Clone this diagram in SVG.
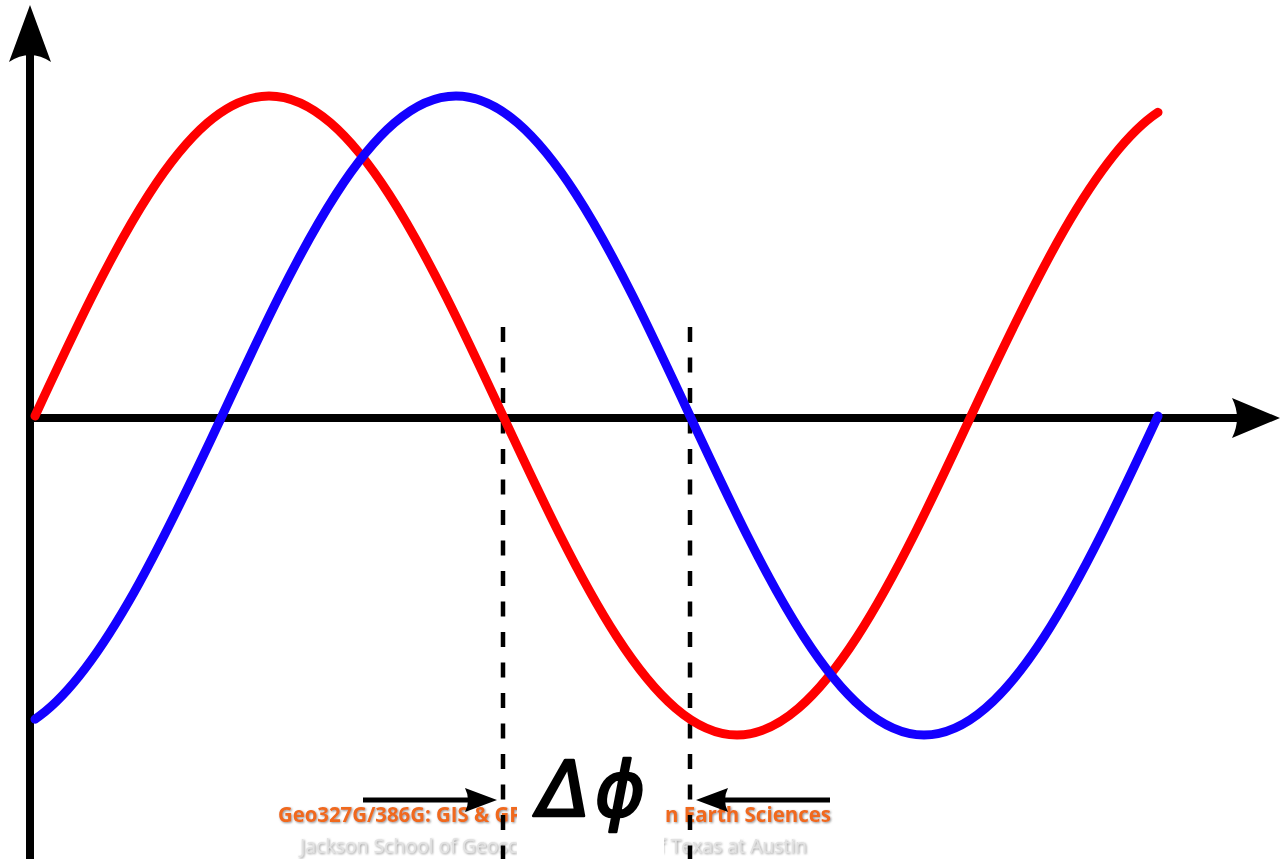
<svg xmlns="http://www.w3.org/2000/svg" width="1280" height="859" viewBox="0 0 1280 859">
<style>
.axis{stroke:#000;stroke-width:8;fill:none}
.head{fill:#000;stroke:none}
.wave{fill:none;stroke-width:9;stroke-linecap:round;stroke-linejoin:round}
.dash{stroke:#000;stroke-width:4.5;stroke-dasharray:15 15.5;fill:none}
.small{stroke:#000;stroke-width:5;fill:none}
.wm1{font-family:"Open Sans","Liberation Sans",sans-serif;font-weight:bold;font-size:22px;fill:#F0691A}
.wm2{font-family:"Open Sans","Liberation Sans",sans-serif;font-size:19.5px;fill:#e2e2e2}
.lbl{font-family:"DejaVu Sans","Liberation Sans",sans-serif;font-style:italic;font-size:76px;fill:#000;stroke:#000;stroke-width:2.6;stroke-linejoin:round;letter-spacing:5px}
</style>
<defs>
<filter id="sh" x="-5%" y="-30%" width="110%" height="160%">
<feDropShadow dx="1" dy="1" stdDeviation="0.8" flood-color="#777" flood-opacity="0.8"/>
</filter>
</defs>
<rect width="1280" height="859" fill="#fff"/>
<g id="watermark" filter="url(#sh)">
<text class="wm1" x="278" y="822" textLength="244" lengthAdjust="spacingAndGlyphs">Geo327G/386G: GIS &amp; GP</text>
<text class="wm1" x="665" y="822" textLength="166" lengthAdjust="spacingAndGlyphs">n Earth Sciences</text>
<text class="wm2" x="300" y="853" textLength="222" lengthAdjust="spacingAndGlyphs">Jackson School of Geosci</text>
<text class="wm2" x="659" y="853" textLength="148" lengthAdjust="spacingAndGlyphs">f Texas at Austin</text>
</g>
<rect id="label-bg" x="517" y="745" width="147" height="114" fill="#fff"/>
<g id="connectors">
<line class="axis" x1="30" y1="859" x2="30" y2="52"/>
<path class="head" d="M30,5 L9,62 Q30,48 51,62 Z"/>
<line class="axis" x1="30" y1="418" x2="1240" y2="418"/>
<path class="head" d="M1280,418 L1232,398 Q1242,418 1232,438 Z"/>
<line class="dash" x1="503" y1="327" x2="503" y2="859"/>
<line class="dash" x1="690" y1="327" x2="690" y2="859"/>
<line class="small" x1="363" y1="800" x2="480" y2="800"/>
<path class="head" d="M497,800 L465,788 Q471,800 465,812 Z"/>
<line class="small" x1="830" y1="800" x2="712" y2="800"/>
<path class="head" d="M696,800 L728,788 Q722,800 728,812 Z"/>
</g>
<g id="red-wave">
<path class="wave" stroke="#ff0000" d="M35,416 C111.3,252.1 184.3,96 269,96 C353.7,96 426.7,252.1 503,416 C579.3,579.4 652.3,735 737,735 C821.7,735 894.7,579.4 971,416 C1033.3,282.3 1095.6,153.7 1158,112.3"/>
</g>
<g id="blue-wave">
<path class="wave" stroke="#1400ff" d="M35,719.2 C97.3,677.8 159.7,549.4 222,416 C298.3,252.1 371.3,96 456,96 C540.7,96 613.7,252.1 690,416 C766.3,579.4 839.3,735 924,735 C1008.7,735 1081.7,579.4 1158,416"/>
</g>
<g id="label">
<text class="lbl" x="538" y="816">Δϕ</text>
</g>
</svg>
